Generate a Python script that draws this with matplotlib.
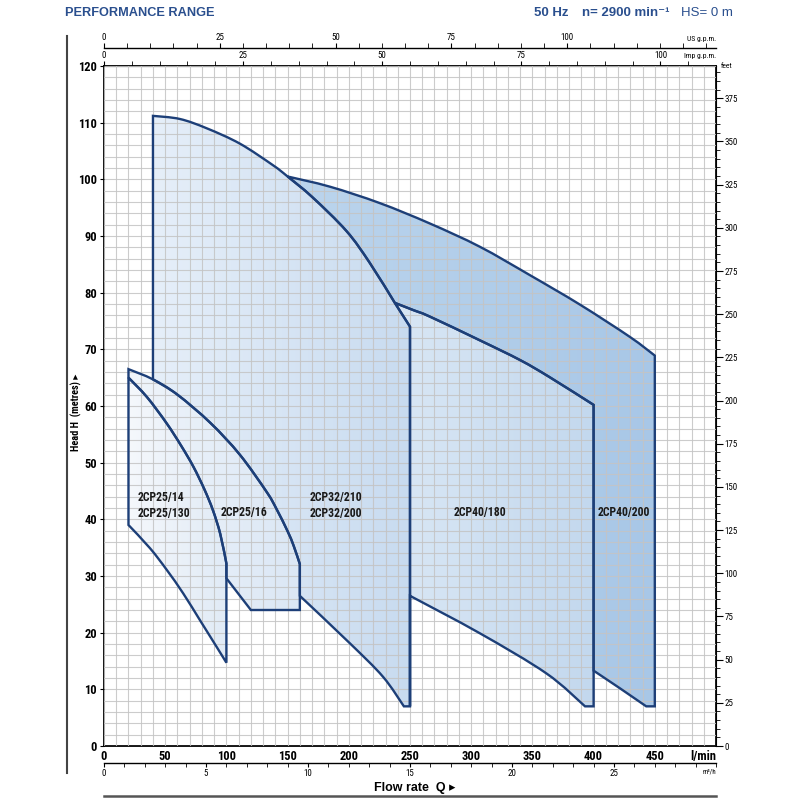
import numpy as np
import matplotlib
matplotlib.use("Agg")
import matplotlib.pyplot as plt
from matplotlib import font_manager as fm
from matplotlib.patches import PathPatch
from matplotlib.path import Path
from matplotlib.lines import Line2D
from matplotlib.colors import LinearSegmentedColormap
from matplotlib.ticker import MultipleLocator, FixedLocator

names = {f.name for f in fm.fontManager.ttflist}
narrow_pick = next((n for n in ['Liberation Sans Narrow', 'DejaVu Sans Condensed', 'Roboto Condensed',
                                'Open Sans Condensed', 'Noto Sans Condensed'] if n in names), None)
NARROW = [narrow_pick or 'DejaVu Sans', 'DejaVu Sans']
SANS = ['Liberation Sans', 'DejaVu Sans']
plt.rcParams['font.family'] = NARROW
if narrow_pick is None:
    plt.rcParams['font.stretch'] = 'condensed'

# flow in l/min, head in metres
q_25_14_top = [20, 35, 51, 63, 73, 82, 89, 95, 100]
h_25_14_top = [65.0, 61.6, 57.0, 53.0, 49.3, 45.3, 41.6, 37.4, 32.2]
q_25_14_bot = [20, 37.6, 51.2, 64.8, 78.4, 92, 100]
h_25_14_bot = [39.0, 34.9, 31.1, 26.9, 22.2, 17.5, 14.7]

q_25_16_top = [20, 40, 60, 87, 111, 133, 141, 150, 155, 160]
h_25_16_top = [66.5, 64.7, 62.0, 57.0, 51.4, 44.8, 41.8, 37.9, 35.3, 32.1]
q_25_16_bot = [160, 120, 100]
h_25_16_bot = [24.0, 24.0, 29.6]

q_32_top = [40, 62, 84, 111, 138, 150, 170, 198, 217, 237.6]
h_32_top = [111.2, 110.65, 109.0, 106.3, 102.5, 100.5, 96.9, 90.9, 85.3, 78.2]
q_32_end = [237.6, 250, 250]
h_32_end = [78.2, 74.0, 7.0]
q_32_bot = [160, 201, 228, 245]
h_32_bot = [26.5, 18.1, 12.2, 7.0]

q_40_180_top = [237.6, 253, 266, 307, 340, 364, 400]
h_40_180_top = [78.2, 76.9, 75.8, 71.6, 68.1, 65.1, 60.2]
q_40_180_bot = [250, 307, 361.5, 393]
h_40_180_bot = [26.5, 19.9, 12.8, 7.0]

q_40_200_top = [150, 184.6, 225.4, 266.3, 307.1, 347.9, 388.8, 429.6, 450]
h_40_200_top = [100.5, 98.7, 95.8, 92.2, 88.1, 83.1, 77.9, 72.2, 68.9]
q_40_200_bot = [400, 421.4, 443]
h_40_200_bot = [13.3, 10.2, 7.0]

labels = [("2CP25/14\n2CP25/130", 27.5, 42.5),
          ("2CP25/16", 95.5, 41.2),
          ("2CP32/210\n2CP32/200", 168, 42.5),
          ("2CP40/180", 286, 41.2),
          ("2CP40/200", 403, 41.2)]

EDGE = '#1d3f78'


def rev(a):
    return list(a)[::-1]


def build_path(pieces):
    # pieces: (qs, hs, smooth); drawn one after the other, closed at the end
    verts, codes = [], []
    for qs, hs, smooth in pieces:
        p = np.column_stack([qs, hs]).astype(float)
        if not verts:
            verts.append(p[0]); codes.append(Path.MOVETO)
        elif not np.allclose(verts[-1], p[0]):
            verts.append(p[0]); codes.append(Path.LINETO)
        if smooth and len(p) > 2:
            ext = np.vstack([p[0], p, p[-1]])
            for i in range(1, len(ext) - 2):
                a, b, c, d = ext[i - 1], ext[i], ext[i + 1], ext[i + 2]
                verts += [b + (c - a) / 6, c - (d - b) / 6, c]
                codes += [Path.CURVE4] * 3
        else:
            for pt in p[1:]:
                verts.append(pt); codes.append(Path.LINETO)
    verts.append(verts[0]); codes.append(Path.CLOSEPOLY)
    return Path(np.array(verts), codes)


def region(ax, pieces, c0, c1, z):
    path = build_path(pieces)
    ext = path.get_extents()
    clip = PathPatch(path, facecolor='none', edgecolor='none')
    ax.add_patch(clip)
    cmap = LinearSegmentedColormap.from_list('g', [c0, c1])
    grad = np.linspace(0, 1, 256).reshape(1, -1)
    im = ax.imshow(grad, extent=[ext.x0, ext.x1, ext.y0, ext.y1], aspect='auto',
                   cmap=cmap, origin='lower', zorder=z, interpolation='bilinear')
    im.set_clip_path(clip)
    ax.add_patch(PathPatch(path, facecolor='none', edgecolor=EDGE, lw=1.7,
                           joinstyle='miter', zorder=4))


fig = plt.figure(figsize=(8, 8), dpi=100)
ax = fig.add_axes([104 / 800, 54 / 800, 612 / 800, 680 / 800])

i150 = q_32_top.index(150)

# 2CP40/200
region(ax, [(q_40_200_top, h_40_200_top, True),
            ([450, 450], [68.9, 7.0], False),
            (rev(q_40_200_bot), rev(h_40_200_bot), False),
            ([400, 400], [13.3, 60.2], False),
            (rev(q_40_180_top), rev(h_40_180_top), True),
            (rev(q_32_top[i150:]), rev(h_32_top[i150:]), True)],
       '#bcd5ed', '#a8c7e7', 1)

# 2CP40/180
region(ax, [(q_32_end, h_32_end, False),
            ([250, 250], [7.0, 26.5], False),
            (q_40_180_bot, h_40_180_bot, True),
            ([393, 400, 400], [7.0, 7.0, 60.2], False),
            (rev(q_40_180_top), rev(h_40_180_top), True)],
       '#d9e7f5', '#c3d8ee', 1)

# 2CP32
i40 = q_25_16_top.index(40)
region(ax, [([40, 40], [h_25_16_top[i40], 111.2], False),
            (q_32_top, h_32_top, True),
            (q_32_end, h_32_end, False),
            ([250, 245], [7.0, 7.0], False),
            (rev(q_32_bot), rev(h_32_bot), True),
            ([160, 160], [26.5, 32.1], False),
            (rev(q_25_16_top[i40:]), rev(h_25_16_top[i40:]), True)],
       '#e6eff9', '#c8dbf0', 1)

# 2CP25/16
region(ax, [(q_25_16_top, h_25_16_top, True),
            (q_25_16_bot, h_25_16_bot, False),
            ([100, 100], [29.6, 32.2], False),
            (rev(q_25_14_top), rev(h_25_14_top), True)],
       '#f0f5fb', '#dbe7f5', 1.1)

# 2CP25/14
region(ax, [(q_25_14_top, h_25_14_top, True),
            ([100, 100], [32.2, 14.7], False),
            (rev(q_25_14_bot), rev(h_25_14_bot), True)],
       '#f5f8fc', '#e1ebf6', 1.1)

for txt, x, y in labels:
    ax.text(x, y, txt, fontsize=8.5, fontweight='bold', color='#1a1a1a',
            ha='left', va='center', linespacing=1.3, zorder=5)

ax.set_xlim(0, 500)
ax.set_ylim(0, 120)
ax.xaxis.set_major_locator(FixedLocator([0, 50, 100, 150, 200, 250, 300, 350, 400, 450]))
ax.xaxis.set_minor_locator(MultipleLocator(10))
ax.yaxis.set_major_locator(MultipleLocator(10))
ax.yaxis.set_minor_locator(MultipleLocator(2))
ax.set_axisbelow(False)
ax.grid(which='both', color='#c4c4c4', lw=0.8, alpha=0.85)
ax.tick_params(which='minor', length=0)
ax.tick_params(axis='x', which='major', length=0, pad=3, labelsize=9)
ax.tick_params(axis='y', which='major', length=3, direction='out', pad=2, labelsize=9)
for lab in ax.get_xticklabels() + ax.get_yticklabels():
    lab.set_fontweight('bold')
ax.tick_params(right=False, top=False)
for s in ax.spines.values():
    s.set_linewidth(1.3)
ax.text(1.0, -0.006, 'l/min', transform=ax.transAxes, ha='right', va='top',
        fontsize=9, fontweight='bold')

# secondary flow scales
us = ax.secondary_xaxis(1.0265, functions=(lambda x: x / 3.785, lambda x: x * 3.785))
us.xaxis.set_major_locator(FixedLocator([0, 25, 50, 75, 100]))
us.xaxis.set_minor_locator(MultipleLocator(5))
us.tick_params(which='both', length=3.5, direction='out', labelsize=6.5, pad=1)
us.spines['top'].set_linewidth(1.0)
ax.text(1.0, 1.036, 'US g.p.m.', transform=ax.transAxes, ha='right', va='bottom', fontsize=5.5)

imp = ax.secondary_xaxis('top', functions=(lambda x: x / 4.546, lambda x: x * 4.546))
imp.xaxis.set_major_locator(FixedLocator([0, 25, 50, 75, 100]))
imp.xaxis.set_minor_locator(MultipleLocator(5))
imp.tick_params(which='both', length=3.5, direction='out', labelsize=6.5, pad=1)
ax.text(1.0, 1.01, 'Imp g.p.m.', transform=ax.transAxes, ha='right', va='bottom', fontsize=5.5)

m3 = ax.secondary_xaxis(-0.025, functions=(lambda x: x * 0.06, lambda x: x / 0.06))
m3.xaxis.set_major_locator(FixedLocator([0, 5, 10, 15, 20, 25]))
m3.xaxis.set_minor_locator(MultipleLocator(1))
m3.tick_params(which='both', length=3, direction='out', labelsize=6.5, pad=1)
m3.spines['bottom'].set_linewidth(1.0)
ax.text(1.0, -0.033, 'm³/h', transform=ax.transAxes, ha='right', va='top', fontsize=5)

ft = ax.secondary_yaxis('right', functions=(lambda m: m * 3.2808, lambda f: f / 3.2808))
ft.yaxis.set_major_locator(FixedLocator(list(range(0, 376, 25))))
ft.yaxis.set_minor_locator(MultipleLocator(5))
ft.tick_params(which='major', length=5, direction='out', labelsize=6.5, pad=1)
ft.tick_params(which='minor', length=3, direction='out')
ax.text(1.008, 0.996, 'feet', transform=ax.transAxes, ha='left', va='bottom', fontsize=5.5)

# frame lines and titles
fig.add_artist(Line2D([67 / 800, 67 / 800], [1 - 36 / 800, 1 - 773 / 800], color='#444444', lw=1.5))
fig.add_artist(Line2D([104 / 800, 716 / 800], [1 - 796 / 800, 1 - 796 / 800], color='#555555', lw=1.8))
fig.text(76 / 800, 1 - 412 / 800, 'Head H  (metres) ▸', rotation=90, ha='center', va='center',
         fontsize=7.5, fontweight='bold')
fig.text(415 / 800, 1 - 788 / 800, 'Flow rate  Q ▸', ha='center', va='center',
         fontsize=9, fontweight='bold', family=SANS)

BLUE = '#2a4f8e'
fig.text(65 / 800, 1 - 13 / 800, 'PERFORMANCE RANGE', ha='left', va='center', fontsize=9.2,
         fontweight='bold', color=BLUE, family=SANS)
fig.text(534 / 800, 1 - 13 / 800, '50 Hz', ha='left', va='center', fontsize=9.5,
         fontweight='bold', color=BLUE, family=SANS)
fig.text(582 / 800, 1 - 13 / 800, 'n= 2900 min⁻¹', ha='left', va='center', fontsize=9.5,
         fontweight='bold', color=BLUE, family=SANS)
fig.text(681 / 800, 1 - 13 / 800, 'HS= 0 m', ha='left', va='center', fontsize=9.5,
         color=BLUE, family=SANS)

fig.savefig('out.png', dpi=100)
